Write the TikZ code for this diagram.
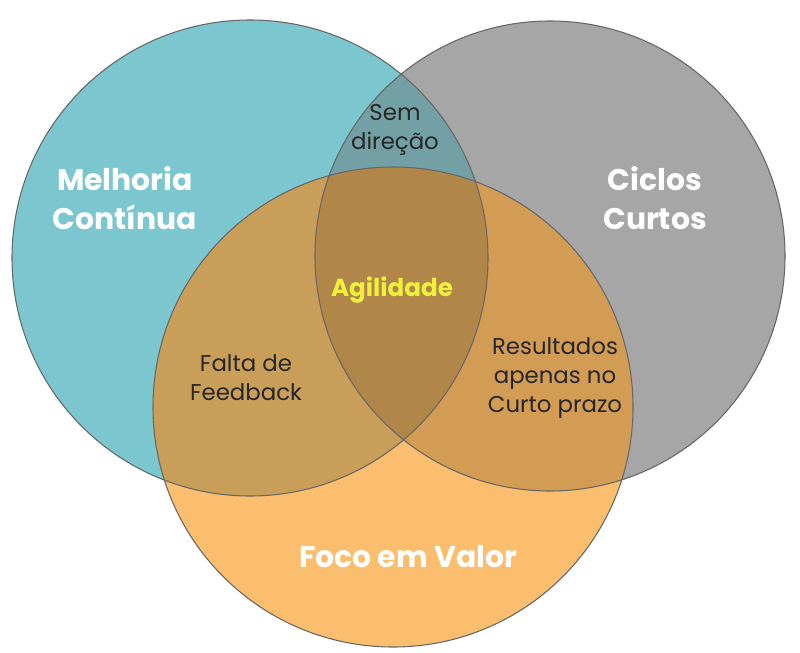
\documentclass[tikz,border=0pt]{standalone}
\usepackage{fontspec}
\setmainfont{Poppins}
\usepackage{tikz}
\definecolor{tealC}{HTML}{7CC7CF}
\definecolor{grayC}{HTML}{A6A6A6}
\definecolor{orangeC}{HTML}{FBB04F}
\definecolor{agil}{HTML}{F0F03C}
\begin{document}
\begin{tikzpicture}[x=0.02cm,y=-0.02cm,
    circ/.style={draw=black!60, line width=0.6pt},
    big/.style={text=white, font=\fontsize{17}{22}\selectfont\bfseries, align=center},
    small/.style={text=black!85, font=\fontsize{13}{16.5}\selectfont, align=center}]
		\useasboundingbox (0,0) rectangle (800,652);

		% circles
		\fill[white] (0,0) rectangle (800,652);
		\fill[tealC] (250,258) circle (238);
		\fill[grayC] (550,256) circle (235);
		\begin{scope}
			\clip (250,258) circle (238);
			\fill[tealC!80!black, opacity=0.75] (550,256) circle (235);
		\end{scope}
		\fill[orangeC, fill opacity=0.82] (393,407) circle (240);
		\begin{scope}
			\clip (393,407) circle (240);
			\fill[black, opacity=0.12] (250,258) circle (238);
			\fill[black, opacity=0.1] (550,256) circle (235);
		\end{scope}
		\draw[circ] (250,258) circle (238);
		\draw[circ] (550,256) circle (235);
		\draw[circ] (393,407) circle (240);

		% labels
		\node[big] (melhoria) at (125,198) {Melhoria\\Contínua};
		\node[big] (ciclos) at (655,198) {Ciclos\\Curtos};
		\node[big] (foco) at (408,557) {Foco em Valor};
		\node[small] (sem) at (395,130) {Sem\\direção};
		\node[small] (falta) at (246,378) {Falta de\\Feedback};
		\node[small] (result) at (555,378) {Resultados\\apenas no\\Curto prazo};
		\node[font=\fontsize{14}{17}\selectfont\bfseries, text=agil] (agilidade) at (392,290) {Agilidade};
	\end{tikzpicture}
\end{document}
